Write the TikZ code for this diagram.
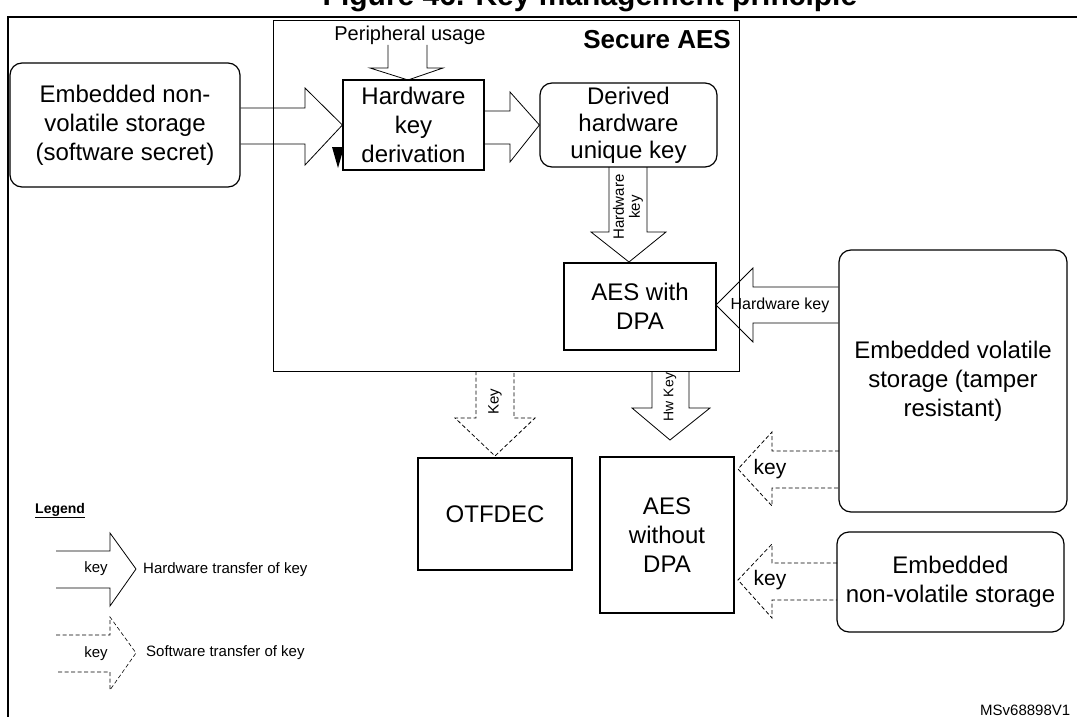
\documentclass[tikz,border=0pt]{standalone}
\usepackage{fontspec}
\setmainfont{Liberation Sans}
\begin{document}
\begin{tikzpicture}[x=1pt,y=-1pt,
  box/.style={draw,line width=1.2pt,align=center,font=\fontsize{24}{29}\selectfont,inner sep=0pt},
  rbox/.style={box,rounded corners=12pt},
  blk/.style={draw,line width=0.8pt,line join=miter},
  sw/.style={blk,dashed,dash pattern=on 4pt off 2.5pt},
  lbl/.style={font=\fontsize{15}{16}\selectfont,inner sep=0pt},
  lg/.style={font=\fontsize{15}{17}\selectfont,inner sep=0pt}]
\useasboundingbox (0,0) rectangle (1077,717);
\node[font=\bfseries\fontsize{30}{32}\selectfont,anchor=base] (title) at (590,6) {Figure 46. Key management principle};
\draw[line width=1.8pt] (8,730) -- (8,17) -- (1090,17);
% secure AES
\node[draw,line width=1.2pt,minimum width=466pt,minimum height=351pt,anchor=north west,inner sep=0pt] (sec) at (273,20) {};
\node[font=\bfseries\fontsize{26}{28}\selectfont,anchor=north east,inner sep=0pt] (sectitle) at (731,30) {Secure AES};
\node[font=\fontsize{20}{22}\selectfont,inner sep=0pt] (periph) at (410,35) {Peripheral usage};
% boxes
\node[rbox,minimum width=230pt,minimum height=124pt] (ens) at (125,125) {Embedded non-\\volatile storage\\(software secret)};
\node[box,minimum width=141pt,minimum height=90pt] (hkd) at (413.5,125) {Hardware\\key\\derivation};
\node[rbox,minimum width=177pt,minimum height=84pt,font=\fontsize{24}{27}\selectfont] (dhk) at (628.5,125) {Derived\\hardware\\unique key};
\node[box,minimum width=152pt,minimum height=87pt] (dpa) at (640,306.5) {AES with\\DPA};
\node[rbox,minimum width=228pt,minimum height=262pt] (evs) at (953,381) {Embedded volatile\\storage (tamper\\resistant)};
\node[box,minimum width=154pt,minimum height=112pt] (otf) at (495,514) {OTFDEC};
\node[box,minimum width=134pt,minimum height=156pt] (ndpa) at (667,535) {AES\\without\\DPA};
\node[rbox,minimum width=227pt,minimum height=100pt] (env) at (950.5,582) {Embedded\\non-volatile storage};
% arrows
\draw[blk] (388,45) -- (388,68) -- (370,68) -- (408,80) -- (443,68) -- (427,68) -- (427,45);
\draw[blk] (ens.east|-0,108) -- (305,108) -- (305,88) -- (hkd.west) -- (305,165) -- (305,144) -- (ens.east|-0,144);
\fill (332,147) -- (344,147) -- (338,168) -- cycle;
\draw[blk] (hkd.east|-0,111) -- (510,111) -- (510,92) -- (dhk.west) -- (510,162) -- (510,144) -- (hkd.east|-0,144);
\draw[blk] (609,167) -- (609,232) -- (591,232) -- (629,262) -- (666,232) -- (647,232) -- (647,167);
\node[lbl,rotate=90,align=center] (hwk) at (628,207) {Hardware\\key};
\draw[blk] (evs.west|-0,287) -- (753,287) -- (753,268) -- (716,305) -- (753,342) -- (753,323) -- (evs.west|-0,323);
\node[lbl,font=\fontsize{16}{18}\selectfont] (hwk2) at (780,305) {Hardware key};
\draw[sw] (476,371) -- (476,418) -- (455,418) -- (495,456) -- (535,418) -- (514,418) -- (514,371);
\node[lbl,rotate=90] (k1) at (495,402) {Key};
\draw[blk] (652,371) -- (652,408) -- (632,408) -- (670,440) -- (710,408) -- (689,408) -- (689,371);
\node[lbl,rotate=90,font=\fontsize{14}{16}\selectfont] (k2) at (670,397) {Hw Key};
\draw[sw] (839,451) -- (772,451) -- (772,432) -- (738,469) -- (772,506) -- (772,488) -- (839,488);
\node[font=\fontsize{21}{23}\selectfont,inner sep=0pt] (k3) at (770,469) {key};
\draw[sw] (837,563) -- (772,563) -- (772,544) -- (738,580) -- (772,618) -- (772,600) -- (837,600);
\node[font=\fontsize{21}{23}\selectfont,inner sep=0pt] (k4) at (770,580) {key};
% legend
\node[font=\bfseries\fontsize{14}{16}\selectfont,anchor=base west,inner sep=0pt] (leg) at (35,513) {\underline{Legend}};
\draw[blk] (56,551) -- (110,551) -- (110,533) -- (136,569) -- (110,606) -- (110,588) -- (56,588);
\node[lg] (lk1) at (96,569) {key};
\node[lg,anchor=west] (lt1) at (143,570) {Hardware transfer of key};
\draw[sw,line width=0.6pt] (56,635) -- (110,635) -- (110,617) -- (136,653) -- (110,690) -- (110,672) -- (56,672);
\node[lg] (lk2) at (96,654) {key};
\node[lg,anchor=west] (lt2) at (146,653) {Software transfer of key};
\node[font=\fontsize{15}{17}\selectfont,anchor=base west,inner sep=0pt] (ms) at (980,715) {MSv68898V1};
\end{tikzpicture}
\end{document}
